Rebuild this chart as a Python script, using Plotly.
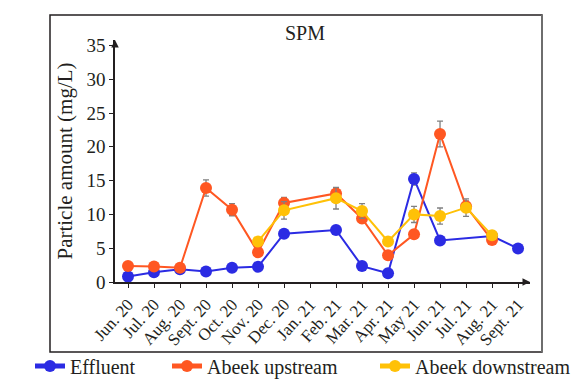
import plotly.graph_objects as go

months = ["Jun. 20", "Jul. 20", "Aug. 20", "Sept. 20", "Oct. 20", "Nov. 20", "Dec. 20",
          "Jan. 21", "Feb. 21", "Mar. 21", "Apr. 21", "May 21", "Jun. 21", "Jul. 21",
          "Aug. 21", "Sept. 21"]

effluent = [0.8, 1.45, 1.9, 1.55, 2.1, 2.25, 7.15, None, 7.7, 2.35, 1.3, 15.25, 6.15, None, 6.8, 4.95]
effluent_err = [0, 0, 0, 0, 0, 0, 0, None, 0, 0, 0, 0.9, 0, None, 0, 0]

upstream = [2.35, 2.3, 2.1, 13.9, 10.7, 4.4, 11.7, None, 13.1, 9.4, 3.95, 7.05, 21.9, 11.2, 6.2, None]
upstream_err = [0.3, 0.3, 0.2, 1.2, 0.9, 0.4, 0.8, None, 0.8, 0.6, 0.4, 0, 1.9, 0.8, 0.4, None]

downstream = [None, None, None, None, None, 6.0, 10.6, None, 12.4, 10.5, 6.0, 10.0, 9.75, 11.0, 6.9, None]
downstream_err = [None, None, None, None, None, 0.3, 1.3, None, 1.6, 1.1, 0.4, 1.2, 1.2, 1.3, 0.6, None]

FONT = "Liberation Serif, Times New Roman, serif"
W, H = 581, 380
OFF = 8  # page body margin of the written html
L, T = 115 - OFF, 40 - OFF
PW, PH = 415, 242
R, B = W - L - PW, H - T - PH


def px_x(p):
    """screen pixel x -> paper x"""
    return (p - OFF - L) / PW


def px_y(p):
    """screen pixel y -> paper y"""
    return (T + PH - (p - OFF)) / PH


series = [
    ("Effluent", effluent, effluent_err, "#2B2BE3", "legend", 30),
    ("Abeek upstream", upstream, upstream_err, "#FF5722", "legend2", 167),
    ("Abeek downstream", downstream, downstream_err, "#FFC107", "legend3", 375),
]

fig = go.Figure()
legends = {}
for name, vals, errs, color, lg, lx in series:
    fig.add_trace(go.Scatter(
        x=months, y=vals, name=name, mode="lines+markers",
        connectgaps=True, legend=lg,
        line=dict(color=color, width=2),
        marker=dict(color=color, size=12),
        error_y=dict(type="data", array=errs, visible=True, color="#808080",
                     thickness=1.3, width=3),
    ))
    legends[lg] = dict(orientation="h", x=px_x(lx), xanchor="left",
                       y=px_y(366), yanchor="middle",
                       font=dict(size=20, family=FONT, color="#231F20"),
                       bgcolor="rgba(0,0,0,0)", itemsizing="constant")

fig.update_layout(
    width=W, height=H,
    margin=dict(l=L, r=R, t=T, b=B, autoexpand=False),
    paper_bgcolor="white", plot_bgcolor="white",
    font=dict(family=FONT, color="#231F20"),
    showlegend=True,
    **legends,
)
fig.update_xaxes(
    type="category", categoryorder="array", categoryarray=months, automargin=False,
    range=[-0.5, 15.46], showline=True, linecolor="#231F20", linewidth=1.5,
    ticks="outside", ticklen=4, tickcolor="#231F20", tickwidth=1,
    tickangle=-48, tickfont=dict(size=17, family=FONT), showgrid=False, zeroline=False,
)
fig.update_yaxes(
    range=[0, 35.8], tickvals=[0, 5, 10, 15, 20, 25, 30, 35], automargin=False,
    showline=True, linecolor="#231F20", linewidth=1.5,
    ticks="outside", ticklen=4, tickcolor="#231F20", tickwidth=1,
    tickfont=dict(size=19, family=FONT), showgrid=False, zeroline=False,
    title=dict(text="Particle amount (mg/L)", font=dict(size=21, family=FONT), standoff=8),
)

# frame around the chart
fig.add_shape(type="rect", xref="paper", yref="paper",
              x0=px_x(50), x1=px_x(542), y0=px_y(352), y1=px_y(15),
              line=dict(color="#231F20", width=1.5), layer="below")
fig.add_shape(type="line", xref="paper", yref="paper",
              x0=px_x(542), x1=px_x(542), y0=px_y(352), y1=px_y(15),
              line=dict(color="#6E6E6E", width=2))

# axis arrows
fig.add_annotation(xref="paper", yref="paper", x=0, y=1, ax=0, ay=8,
                   axref="pixel", ayref="pixel", showarrow=True, arrowhead=2,
                   arrowsize=1, arrowwidth=1.5, arrowcolor="#231F20", text="")
fig.add_annotation(xref="paper", yref="paper", x=1, y=0, ax=-8, ay=0,
                   axref="pixel", ayref="pixel", showarrow=True, arrowhead=2,
                   arrowsize=1, arrowwidth=1.5, arrowcolor="#231F20", text="")

# title
fig.add_annotation(xref="paper", yref="paper", x=px_x(305), y=px_y(33),
                   text="SPM", showarrow=False, font=dict(size=20, family=FONT),
                   xanchor="center", yanchor="middle")

fig.write_html("out.html")
